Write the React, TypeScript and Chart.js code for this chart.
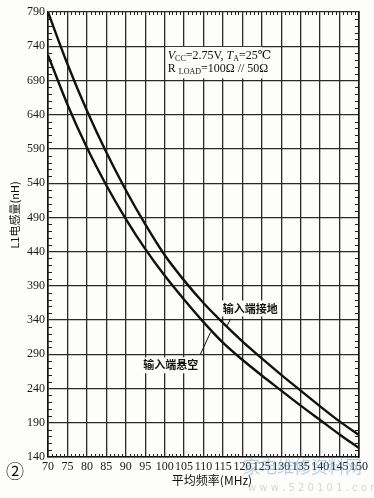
import React, { useEffect, useRef } from "react";
import { Chart, registerables } from "chart.js";

Chart.register(...registerables);

// ---- data ----
const freqMHz = [70, 75, 80, 85, 90, 95, 100, 105, 110, 115, 120, 125, 130, 135, 140, 145, 150];
const groundedNH = [790, 714, 646, 585, 530, 480, 435, 398, 365, 336, 309, 284, 260, 237, 214, 192, 172];
const floatingNH = [727, 655, 592, 537, 488, 444, 405, 370, 337, 307, 282, 259, 237, 215, 194, 173, 153];

const xTickValues = [70, 75, 80, 85, 90, 95, 100, 105, 110, 115, 120, 125, 130, 135, 140, 145, 150];
const yTickValues = [140, 190, 240, 290, 340, 390, 440, 490, 540, 590, 640, 690, 740, 790];

const seriesNames = ["输入端接地", "输入端悬空"];
const xTitle = "平均频率(MHz)";
const yTitle = "L1电感量(nH)";

// annotation anchors in data units (MHz, nH)
const groundedLabel = { x: 122, y: 357, leaderFrom: [117.0, 342], leaderTo: [116.0, 331] };
const floatingLabel = { x: 101.6, y: 274, leaderFrom: [109.2, 290], leaderTo: [111.8, 322] };
const conditionBox = { x0: 100.3, x1: 125.2, y0: 739, y1: 693, textX: 100.8, line1Y: 721, line2Y: 703 };

const SERIF = "'Liberation Serif', 'DejaVu Serif', serif";
const CJK = "'Noto Sans CJK SC', 'Noto Sans', sans-serif";

type Seg = { t: string; font: string; dy?: number };

function drawSegs(ctx: CanvasRenderingContext2D, segs: Seg[], x: number, y: number) {
  let cx = x;
  for (const s of segs) {
    ctx.font = s.font;
    ctx.fillText(s.t, cx, y + (s.dy || 0));
    cx += ctx.measureText(s.t).width;
  }
}

const decorPlugin = {
  id: "decor",
  beforeDraw(chart: any) {
    const { ctx, width, height } = chart;
    ctx.save();
    ctx.fillStyle = "#fdfdfb";
    ctx.fillRect(0, 0, width, height);
    ctx.restore();
  },
  beforeDatasetsDraw(chart: any) {
    const { ctx, chartArea } = chart;
    const xs = chart.scales.x;
    const ys = chart.scales.y;
    ctx.save();
    ctx.strokeStyle = "#222";
    ctx.lineWidth = 1;
    ctx.beginPath();
    for (let v = 70; v <= 150; v += 1) {
      if (v % 5 === 0) continue;
      const px = Math.round(xs.getPixelForValue(v)) + 0.5;
      ctx.moveTo(px, chartArea.top);
      ctx.lineTo(px, chartArea.top + 3);
      ctx.moveTo(px, chartArea.bottom);
      ctx.lineTo(px, chartArea.bottom - 3);
    }
    for (let v = 140; v <= 790; v += 10) {
      if ((v - 140) % 50 === 0) continue;
      const py = Math.round(ys.getPixelForValue(v)) + 0.5;
      ctx.moveTo(chartArea.left, py);
      ctx.lineTo(chartArea.left + 4, py);
      ctx.moveTo(chartArea.right, py);
      ctx.lineTo(chartArea.right - 4, py);
    }
    ctx.stroke();

    // condition box (white background)
    const bx0 = xs.getPixelForValue(conditionBox.x0);
    const bx1 = xs.getPixelForValue(conditionBox.x1);
    const by0 = ys.getPixelForValue(conditionBox.y0);
    const by1 = ys.getPixelForValue(conditionBox.y1);
    ctx.fillStyle = "#fdfdfb";
    ctx.fillRect(bx0, by0, bx1 - bx0, by1 - by0);

    // label backgrounds
    ctx.font = "bold 11px " + CJK;
    for (const [lab, name] of [[groundedLabel, seriesNames[0]], [floatingLabel, seriesNames[1]]] as any) {
      const w = ctx.measureText(name).width + 4;
      const cx = xs.getPixelForValue(lab.x);
      const cy = ys.getPixelForValue(lab.y);
      ctx.fillRect(cx - w / 2, cy - 8, w, 16);
    }
    ctx.restore();
  },
  afterDatasetsDraw(chart: any) {
    const { ctx } = chart;
    const xs = chart.scales.x;
    const ys = chart.scales.y;
    ctx.save();
    ctx.fillStyle = "#111";
    ctx.textBaseline = "alphabetic";
    ctx.textAlign = "left";
    const tx = xs.getPixelForValue(conditionBox.textX);
    drawSegs(ctx, [
      { t: "V", font: "italic 12px " + SERIF },
      { t: "CC", font: "8px " + SERIF, dy: 2 },
      { t: "=2.75V, ", font: "12px " + SERIF },
      { t: "T", font: "italic 12px " + SERIF },
      { t: "A", font: "8px " + SERIF, dy: 2 },
      { t: "=25℃", font: "12px " + SERIF },
    ], tx, ys.getPixelForValue(conditionBox.line1Y));
    drawSegs(ctx, [
      { t: "R ", font: "12px " + SERIF },
      { t: "LOAD", font: "8px " + SERIF, dy: 2 },
      { t: "=100Ω // 50Ω", font: "12px " + SERIF },
    ], tx, ys.getPixelForValue(conditionBox.line2Y));

    // curve labels + leaders
    ctx.font = "bold 11px " + CJK;
    ctx.textAlign = "center";
    ctx.textBaseline = "middle";
    ctx.strokeStyle = "#111";
    ctx.lineWidth = 1;
    for (const [lab, name] of [[groundedLabel, seriesNames[0]], [floatingLabel, seriesNames[1]]] as any) {
      ctx.fillText(name, xs.getPixelForValue(lab.x), ys.getPixelForValue(lab.y));
      ctx.beginPath();
      ctx.moveTo(xs.getPixelForValue(lab.leaderFrom[0]), ys.getPixelForValue(lab.leaderFrom[1]));
      ctx.lineTo(xs.getPixelForValue(lab.leaderTo[0]), ys.getPixelForValue(lab.leaderTo[1]));
      ctx.stroke();
    }

    // axis titles
    ctx.font = "12px " + CJK;
    ctx.fillText(xTitle, 212, 480);
    ctx.save();
    ctx.translate(15, 215);
    ctx.rotate(-Math.PI / 2);
    ctx.font = "11px " + CJK;
    ctx.fillText(yTitle, 0, 0);
    ctx.restore();

    // circled number
    ctx.font = "18px " + CJK;
    ctx.fillText("②", 15, 471);

    // watermark
    ctx.globalAlpha = 0.4;
    ctx.fillStyle = "#4a86d0";
    ctx.font = "17px " + CJK;
    ctx.textAlign = "left";
    ctx.fillText("家电维修资料网", 243, 467);
    ctx.fillStyle = "#9a9a9a";
    ctx.font = "10px 'DejaVu Sans', sans-serif";
    ctx.fillText("w w w . 5 2 0 1 0 1 . c o m", 248, 488);
    ctx.restore();
  },
};

export default function App() {
  const ref = useRef<HTMLCanvasElement | null>(null);
  useEffect(() => {
    if (!ref.current) return;
    const lineDs = (label: string, data: number[]) => ({
      label,
      data: freqMHz.map((f, i) => ({ x: f, y: data[i] })),
      borderColor: "#111",
      borderWidth: 2.4,
      pointRadius: 0,
      fill: false,
      cubicInterpolationMode: "monotone" as const,
    });
    const gridCommon = { color: "#2a2a2a", lineWidth: 1.3, drawTicks: false };
    const chart = new Chart(ref.current, {
      type: "line",
      data: {
        datasets: [lineDs(seriesNames[0], groundedNH), lineDs(seriesNames[1], floatingNH)],
      },
      plugins: [decorPlugin],
      options: {
        animation: false,
        responsive: false,
        devicePixelRatio: 1,
        layout: { padding: { left: 0, top: 12, right: 15, bottom: 0 } },
        plugins: { legend: { display: false }, tooltip: { enabled: false }, title: { display: false } },
        scales: {
          x: {
            type: "linear",
            min: 70,
            max: 150,
            afterBuildTicks: (s: any) => { s.ticks = xTickValues.map((v) => ({ value: v })); },
            afterFit: (s: any) => { s.height = 41; },
            ticks: {
              autoSkip: false,
              maxRotation: 0,
              minRotation: 0,
              padding: 3,
              color: "#1a1a1a",
              font: { family: SERIF, size: 12 },
            },
            grid: gridCommon,
            border: { color: "#111", width: 1.6 },
          },
          y: {
            type: "linear",
            min: 140,
            max: 790,
            afterBuildTicks: (s: any) => { s.ticks = yTickValues.map((v) => ({ value: v })); },
            afterFit: (s: any) => { s.width = 48; },
            ticks: {
              padding: 3,
              color: "#1a1a1a",
              font: { family: SERIF, size: 12 },
            },
            grid: gridCommon,
            border: { color: "#111", width: 1.6 },
          },
          y2: {
            type: "linear",
            position: "right",
            min: 140,
            max: 790,
            display: true,
            ticks: { display: false },
            grid: { display: false, drawTicks: false },
            border: { color: "#111", width: 1.6 },
            afterFit: (s: any) => { s.width = 0; },
          },
        },
      },
    });
    return () => chart.destroy();
  }, []);
  return (
    <div style={{ position: "fixed", left: 0, top: 0, width: 374, height: 498 }}>
      <canvas ref={ref} width={374} height={498} style={{ width: 374, height: 498 }} />
    </div>
  );
}
